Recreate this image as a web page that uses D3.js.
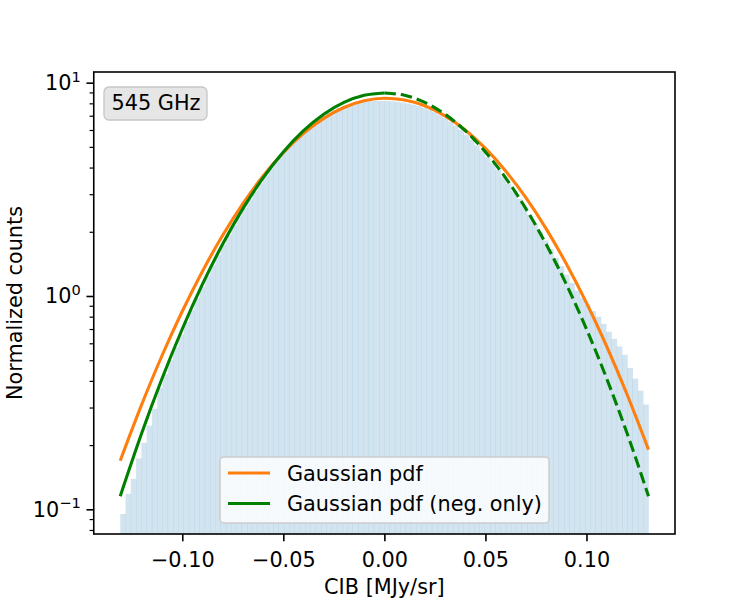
<html>
<head>
    <meta charset="utf-8">
    <title>cib 545 histogram</title>
</head>
<body style="margin: 0; background: #fff;">
    <svg></svg>
</body>

<script src="https://cdn.jsdelivr.net/npm/d3@7"></script>
<script>
const width = 750;
const height = 600;

// histogram (100 equal bins between binLo and binHi), normalized counts
const binLo = -0.1307;
const binHi = 0.1307;
const counts = [
    0.095, 0.118, 0.139, 0.173, 0.205, 0.247, 0.296, 0.37, 0.43, 0.50,
    0.575, 0.66, 0.755, 0.86, 0.975, 1.10, 1.24, 1.39, 1.56, 1.74,
    1.93, 2.14, 2.36, 2.59, 2.84, 3.10, 3.37, 3.66, 3.96, 4.26,
    4.57, 4.88, 5.20, 5.51, 5.82, 6.12, 6.40, 6.68, 6.95, 7.20,
    7.43, 7.62, 7.78, 7.91, 8.01, 8.09, 8.15, 8.19, 8.21, 8.22,
    8.21, 8.18, 8.13, 8.07, 7.99, 7.89, 7.77, 7.63, 7.47, 7.28,
    7.06, 6.83, 6.57, 6.29, 6.00, 5.70, 5.40, 5.09, 4.79, 4.49,
    4.19, 3.91, 3.63, 3.36, 3.10, 2.85, 2.62, 2.40, 2.19, 2.00,
    1.82, 1.66, 1.51, 1.38, 1.26, 1.15, 1.06, 0.98, 0.91, 0.85,
    0.80, 0.74, 0.68, 0.63, 0.58, 0.53, 0.46, 0.41, 0.36, 0.31
];

const curveX = [-0.1307, -0.12, -0.11, -0.10, -0.09, -0.08, -0.07, -0.06, -0.05, -0.04, -0.03, -0.02, -0.01,
    0, 0.01, 0.02, 0.03, 0.04, 0.05, 0.06, 0.07, 0.08, 0.09, 0.10, 0.11, 0.12, 0.1307];
const gaussAll = [0.169, 0.311, 0.526, 0.848, 1.307, 1.925, 2.713, 3.652, 4.702, 5.785, 6.805, 7.650, 8.226,
    8.453, 8.299, 7.791, 6.993, 5.998, 4.918, 3.855, 2.889, 2.070, 1.417, 0.928, 0.580, 0.347, 0.1905];
const gaussNeg = [0.1152, 0.2283, 0.4101, 0.7003, 1.136, 1.752, 2.568, 3.577, 4.733, 5.954, 7.114, 8.081, 8.723,
    8.948, 8.723, 8.081, 7.114, 5.954, 4.733, 3.577, 2.568, 1.752, 1.136, 0.7003, 0.4101, 0.2283, 0.1152];

const xTicks = [-0.10, -0.05, 0.00, 0.05, 0.10];
const yMajor = [0.1, 1, 10];
const yExp = ["\u22121", "0", "1"];
const yMinor = [0.08, 0.09, 0.2, 0.3, 0.4, 0.5, 0.6, 0.7, 0.8, 0.9, 2, 3, 4, 5, 6, 7, 8, 9];
const legendLabels = ["Gaussian pdf", "Gaussian pdf (neg. only)"];
const panelLabel = "545 GHz";

const margin = {left: 93.75, right: 675, top: 72, bottom: 534};
const font = "DejaVu Sans, sans-serif";
const fs = 20.8;

const x = d3.scaleLinear().domain([-0.1438, 0.1438]).range([margin.left, margin.right]);
const y = d3.scaleLog().domain([0.0766, 11.22]).range([margin.bottom, margin.top]);

const svg = d3.select("svg")
    .attr("width", width)
    .attr("height", height)
    .style("font-family", font);

svg.append("defs").append("clipPath").attr("id", "plot")
    .append("rect")
    .attr("x", margin.left).attr("y", margin.top)
    .attr("width", margin.right - margin.left)
    .attr("height", margin.bottom - margin.top);

const plot = svg.append("g").attr("clip-path", "url(#plot)");

// histogram bars
const bw = (binHi - binLo) / counts.length;
plot.append("g")
    .selectAll("rect")
    .data(counts)
    .join("rect")
        .attr("x", (d, i) => x(binLo + i * bw))
        .attr("width", x(binLo + bw) - x(binLo) + 0.3)
        .attr("y", d => y(d))
        .attr("height", d => margin.bottom - y(d))
        .attr("fill", "#1f77b4")
        .attr("fill-opacity", 0.2);

const line = d3.line()
    .x(d => x(d[0]))
    .y(d => y(d[1]))
    .curve(d3.curveMonotoneX);

const allPts = curveX.map((v, i) => [v, gaussAll[i]]);
const negPts = curveX.map((v, i) => [v, gaussNeg[i]]);
const mid = curveX.indexOf(0);

plot.append("path")
    .attr("d", line(allPts))
    .attr("fill", "none")
    .attr("stroke", "#ff7f0e")
    .attr("stroke-width", 3.1);

plot.append("path")
    .attr("d", line(negPts.slice(0, mid + 1)))
    .attr("fill", "none")
    .attr("stroke", "#008000")
    .attr("stroke-width", 3.1);

plot.append("path")
    .attr("d", line(negPts.slice(mid)))
    .attr("fill", "none")
    .attr("stroke", "#008000")
    .attr("stroke-width", 3.1)
    .attr("stroke-dasharray", "11.5,5");

// axes
const xAxis = svg.append("g")
    .attr("transform", `translate(0,${margin.bottom})`)
    .call(d3.axisBottom(x)
        .tickValues(xTicks)
        .tickSize(7.3)
        .tickPadding(7.3)
        .tickFormat(d3.format(".2f")));
xAxis.select(".domain").remove();
xAxis.selectAll("line").attr("stroke", "#000").attr("stroke-width", 1.6);
xAxis.selectAll("text")
    .attr("dy", null)
    .attr("y", 33)
    .attr("fill", "#000")
    .style("font-size", fs + "px")
    .style("font-family", font);

const yMin = svg.append("g")
    .attr("transform", `translate(${margin.left},0)`)
    .call(d3.axisLeft(y).tickValues(yMinor).tickSize(4.2).tickFormat(""));
yMin.select(".domain").remove();
yMin.selectAll("line").attr("stroke", "#000").attr("stroke-width", 1.2);

const yAx = svg.append("g")
    .attr("transform", `translate(${margin.left},0)`)
    .call(d3.axisLeft(y).tickValues(yMajor).tickSize(7.3).tickFormat(""));
yAx.select(".domain").remove();
yAx.selectAll("line").attr("stroke", "#000").attr("stroke-width", 1.6);

const ylab = svg.append("g").selectAll("text")
    .data(yMajor)
    .join("text")
        .attr("x", margin.left - 13)
        .attr("y", d => y(d) + 7.5)
        .attr("text-anchor", "end")
        .style("font-size", fs + "px");
ylab.append("tspan").text("10");
ylab.append("tspan")
    .attr("dy", -8.5)
    .style("font-size", "14.6px")
    .text((d, i) => yExp[i]);

// spines
svg.append("rect")
    .attr("x", margin.left).attr("y", margin.top)
    .attr("width", margin.right - margin.left)
    .attr("height", margin.bottom - margin.top)
    .attr("fill", "none")
    .attr("stroke", "#000")
    .attr("stroke-width", 1.6);

svg.append("text")
    .attr("x", (margin.left + margin.right) / 2)
    .attr("y", 594)
    .attr("text-anchor", "middle")
    .style("font-size", fs + "px")
    .text("CIB [MJy/sr]");

svg.append("text")
    .attr("transform", `translate(22,${(margin.top + margin.bottom) / 2}) rotate(-90)`)
    .attr("text-anchor", "middle")
    .style("font-size", fs + "px")
    .text("Normalized counts");

// panel label
svg.append("rect")
    .attr("x", 104).attr("y", 87)
    .attr("width", 103).attr("height", 33)
    .attr("rx", 5)
    .attr("fill", "#e6e6e6")
    .attr("stroke", "#c6c6c6")
    .attr("stroke-width", 1.3);
svg.append("text")
    .attr("x", 111.5).attr("y", 109.5)
    .style("font-size", fs + "px")
    .text(panelLabel);

// legend
const lg = svg.append("g");
lg.append("rect")
    .attr("x", 220).attr("y", 457)
    .attr("width", 329).attr("height", 66)
    .attr("rx", 4)
    .attr("fill", "#fff")
    .attr("fill-opacity", 0.8)
    .attr("stroke", "#cccccc")
    .attr("stroke-width", 1.5);
const lcol = ["#ff7f0e", "#008000"];
legendLabels.forEach((t, i) => {
    const ly = 473 + i * 30.5;
    lg.append("line")
        .attr("x1", 228).attr("x2", 270)
        .attr("y1", ly).attr("y2", ly)
        .attr("stroke", lcol[i])
        .attr("stroke-width", 3.1);
    lg.append("text")
        .attr("x", 287).attr("y", ly + 7.5)
        .style("font-size", fs + "px")
        .text(t);
});
</script>
</html>
